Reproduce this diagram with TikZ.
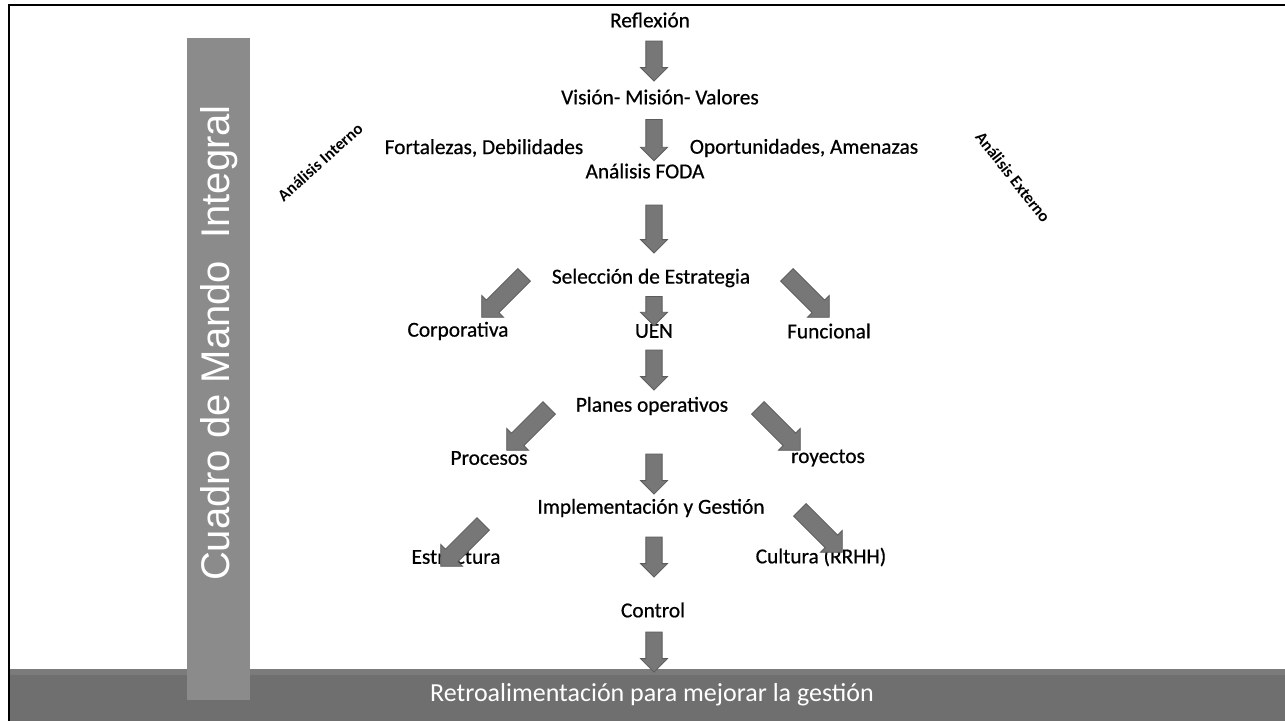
\documentclass[tikz,border=0pt]{standalone}
\usepackage{fontspec}
\setmainfont{Carlito}
\newfontfamily\flowfont[FakeBold=0.6]{Carlito}
\newfontfamily\barfont{Liberation Sans}
\usetikzlibrary{shapes.arrows}
\definecolor{arrowfill}{HTML}{777777}
\definecolor{arrowedge}{HTML}{5C5C5C}
\definecolor{barfill}{HTML}{8B8B8B}
\definecolor{bandfill}{HTML}{6F6F6F}
\definecolor{bandtop}{HTML}{7B7B7B}
\begin{document}
\begin{tikzpicture}[x=0.75pt,y=-0.75pt,
  lbl/.style={font=\flowfont\fontsize{16}{19}\selectfont, inner sep=1pt},
  side/.style={font=\bfseries\fontsize{12.5}{15}\selectfont, inner sep=0pt},
  downarrow/.style={single arrow, draw=arrowedge, fill=arrowfill, line width=0.6pt,
    inner xsep=0pt, inner ysep=5.8pt, single arrow head extend=4pt,
    minimum height=#1, rotate=-90},
  diagarrow/.style={single arrow, draw=arrowedge, fill=arrowfill, line width=0.6pt,
    inner xsep=0pt, inner ysep=6.3pt, single arrow head extend=5pt,
    minimum height=45pt, rotate=#1}]
\useasboundingbox (0,0) rectangle (1285,721);
\fill[white] (0,0) rectangle (1285,721);
% frame lines
\draw[line width=2.2pt] (9,721) -- (9,5) -- (1285,5);
% feedback band
\fill[bandfill] (10,669) rectangle (1285,721);
\fill[bandtop] (10,669) rectangle (1285,675);
\node[font=\fontsize{19.5}{23}\selectfont, text=white] (feed) at (652,695) {Retroalimentación para mejorar la gestión};
% vertical scorecard bar
\fill[barfill] (187,38) rectangle (250,700);
\node[font=\barfont\fontsize{30}{34}\selectfont, text=white, rotate=90] (cmi) at (219,343) {Cuadro de Mando\ \ Integral};
% side labels
\node[side, rotate=42] (aint) at (320,162) {Análisis Interno};
\node[side, rotate=-52] (aext) at (1013,177) {Análisis Externo};
% flow texts
\node[lbl] (refl) at (650,20) {Reflexión};
\node[lbl] (vmv) at (660,97) {Visión- Misión- Valores};
\node[lbl] (fd) at (484,148) {Fortalezas, Debilidades};
\node[lbl] (oa) at (804,148) {Oportunidades, Amenazas};
\node[lbl] (foda) at (645,171) {Análisis FODA};
\node[lbl] (sel) at (651,278) {Selección de Estrategia};
\node[lbl] (corp) at (458,331) {Corporativa};
\node[lbl] (uen) at (654,331) {UEN};
\node[lbl] (func) at (829,331) {Funcional};
\node[lbl] (plan) at (652,406) {Planes operativos};
\node[lbl] (proc) at (489,458) {Procesos};
\node[lbl] (proy) at (828,458) {royectos};
\node[lbl] (impl) at (651,508) {Implementación y Gestión};
\node[lbl] (estr) at (456,557) {Estructura};
\node[lbl] (cult) at (821,557) {Cultura (RRHH)};
\node[lbl] (ctrl) at (653,610) {Control};
% block arrows
\node[downarrow=30pt] (a1) at (654,57) {};
\node[downarrow=31pt] (a2) at (654,136) {};
\node[downarrow=36pt] (a3) at (654,225) {};
\node[downarrow=22pt] (a4) at (654,307) {};
\node[downarrow=30pt] (a5) at (654,366) {};
\node[downarrow=30pt] (a6) at (654,470) {};
\node[downarrow=30pt] (a7) at (654,553) {};
\node[downarrow=30pt] (a8) at (654,648) {};
\node[diagarrow=-135] (d1) at (506,293) {};
\node[diagarrow=-45] (d2) at (805,293) {};
\node[diagarrow=-135] (d3) at (531,426) {};
\node[diagarrow=-45] (d4) at (776,426) {};
\node[diagarrow=-135] (d5) at (465,542) {};
\node[diagarrow=-45] (d6) at (818,528) {};
\end{tikzpicture}
\end{document}
